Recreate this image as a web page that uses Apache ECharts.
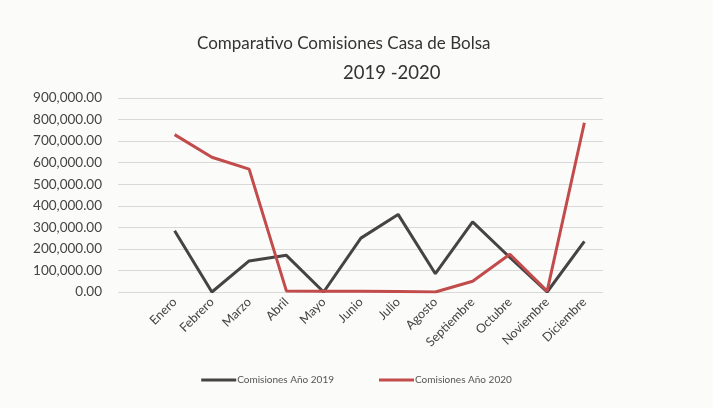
<!DOCTYPE html>
<html><head><meta charset="utf-8">
<script src="https://cdn.jsdelivr.net/npm/echarts@6/dist/echarts.min.js"></script>
<style>html,body{margin:0;padding:0;background:#fbfbfa;}#c{width:713px;height:408px;}</style>
</head><body><div id="c"></div>
<script>
const categories = ['Enero','Febrero','Marzo','Abril','Mayo','Junio','Julio','Agosto','Septiembre','Octubre','Noviembre','Diciembre'];
const comisiones2019 = [284000, 0, 144000, 170000, 0, 250000, 360000, 85000, 325000, 160000, 0, 235000];
const comisiones2020 = [730000, 625000, 570000, 5000, 4000, 3000, 2000, 0, 50000, 175000, 4000, 785000];
const yTicks = [0, 100000, 200000, 300000, 400000, 500000, 600000, 700000, 800000, 900000];
const seriesNames = ['Comisiones Año 2019', 'Comisiones Año 2020'];

const chart = echarts.init(document.getElementById('c'));
const fmt = v => v.toLocaleString('en-US', {minimumFractionDigits: 2, maximumFractionDigits: 2});
const font = 'Lato, "Open Sans", sans-serif';
chart.setOption({
  backgroundColor: '#fbfbfa',
  animation: false,
  title: [
    {text: 'Comparativo Comisiones Casa de Bolsa', left: 192, top: 30,
     textStyle: {fontFamily: font, fontSize: 17, fontWeight: 'normal', color: '#333'}},
    {text: '2019 -2020', left: 338, top: 59,
     textStyle: {fontFamily: font, fontSize: 18.5, fontWeight: 'normal', color: '#333'}}
  ],
  legend: {
    bottom: 18, left: 'center', itemWidth: 35, itemHeight: 3, itemGap: 45,
    icon: 'rect',
    textStyle: {fontFamily: font, fontSize: 10, color: '#555', padding: [0,0,0,-4]},
    data: seriesNames
  },
  grid: [
    {left: 118, right: 110, top: 98, bottom: 116},
    {left: 156, right: 110, top: 98, bottom: 116}
  ],
  xAxis: [
    {gridIndex: 0, type: 'value', min: 0, max: 1, show: false},
    {gridIndex: 1, type: 'category', data: categories, boundaryGap: true,
     axisLine: {show: false}, axisTick: {show: false},
     axisLabel: {rotate: 45, fontFamily: font, fontSize: 12.5, color: '#444', interval: 0, margin: 8}}
  ],
  yAxis: [
    {gridIndex: 0, type: 'value', min: yTicks[0], max: yTicks[yTicks.length-1], interval: 100000,
     axisLine: {show: false}, axisTick: {show: false},
     axisLabel: {formatter: v => fmt(v), fontFamily: font, fontSize: 13.5, color: '#444', margin: 16},
     splitLine: {lineStyle: {color: '#d9d9d9', width: 1}}},
    {gridIndex: 1, type: 'value', min: yTicks[0], max: yTicks[yTicks.length-1], interval: 100000,
     show: false, splitLine: {show: false}}
  ],
  series: [
    {name: seriesNames[0], type: 'line', xAxisIndex: 1, yAxisIndex: 1, data: comisiones2019,
     symbol: 'none', lineStyle: {color: '#464343', width: 3}, itemStyle: {color: '#464343'}},
    {name: seriesNames[1], type: 'line', xAxisIndex: 1, yAxisIndex: 1, data: comisiones2020,
     symbol: 'none', lineStyle: {color: '#c24b4b', width: 3}, itemStyle: {color: '#c24b4b'}}
  ]
});
</script></body></html>
